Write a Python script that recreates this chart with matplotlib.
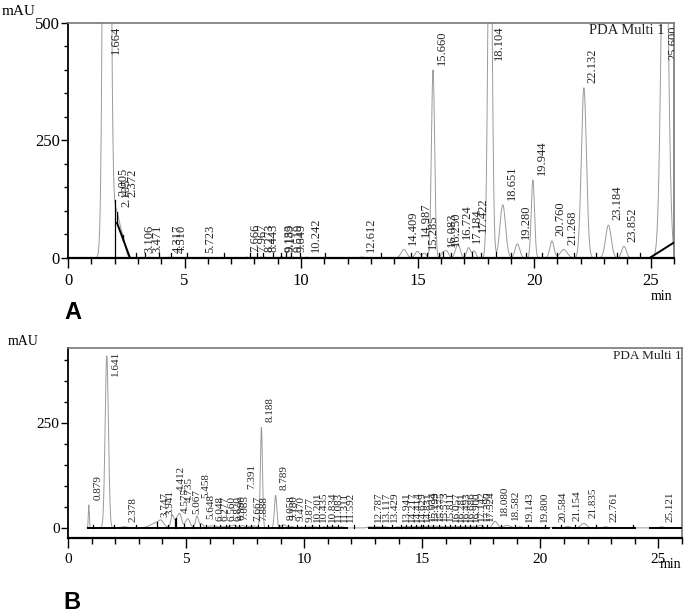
import matplotlib.pyplot as plt
import numpy as np

SERIF = ['Liberation Serif', 'DejaVu Serif']

# Panel A: peak table -> retention time (min), height (mAU), width sigma (min)
a_rt = [1.664, 2.005, 2.105, 2.372, 3.106, 3.471, 4.317, 4.510, 5.723,
        7.666, 7.967, 8.273, 8.443, 9.133, 9.189, 9.519, 9.649, 10.242,
        12.612, 14.409, 14.987, 15.285, 15.660, 16.083, 16.250, 16.724,
        17.184, 17.422, 18.104, 18.651, 19.280, 19.944, 20.760, 21.268,
        22.132, 23.184, 23.852, 25.600]
a_height = [3000, 70, 35, 25, 1.5, 1.5, 1.5, 1.5, 1,
            2, 2, 2, 2, 2, 2, 2, 2, 2,
            2, 18, 14, 10, 400, 12, 14, 30,
            22, 15, 900, 113, 30, 166, 36, 18,
            362, 70, 25, 900]
a_sigma = [0.11, 0.20, 0.15, 0.10, 0.05, 0.05, 0.05, 0.05, 0.05,
           0.05, 0.05, 0.05, 0.05, 0.05, 0.05, 0.05, 0.05, 0.05,
           0.10, 0.12, 0.10, 0.08, 0.07, 0.08, 0.08, 0.10,
           0.08, 0.08, 0.085, 0.12, 0.10, 0.07, 0.09, 0.15,
           0.11, 0.12, 0.10, 0.14]
a_base = [((2.10, 75.0), (2.66, 0.0)), ((24.95, 0.0), (26.0, 33.0))]

# Panel B
b_rt = [0.879, 1.641, 2.378, 3.747, 3.941, 4.412, 4.575, 4.735, 5.067,
        5.458, 5.648, 6.048, 6.277, 6.560, 6.820, 6.990, 7.085, 7.391,
        7.667, 7.888, 8.188, 8.789, 9.058, 9.180, 9.470, 9.877, 10.201,
        10.435, 10.834, 11.083, 11.311, 11.592, 12.787, 13.117, 13.429,
        13.941, 14.217, 14.414, 14.629, 14.831, 15.034, 15.199, 15.375,
        15.573, 15.811, 16.057, 16.281, 16.493, 16.686, 16.900, 17.142,
        17.390, 17.524, 18.080, 18.582, 19.143, 19.800, 20.584, 21.154,
        21.835, 22.761, 25.121]
b_height = [55, 410, 3, 12, 10, 28, 18, 32, 22,
            28, 10, 5, 4, 4, 4, 4, 4, 6,
            4, 5, 240, 78, 5, 5, 4, 3, 3,
            3, 3, 3, 3, 3, 3, 3, 3,
            3, 3, 3, 3, 3, 3, 3, 4,
            4, 4, 3, 3, 3, 3, 3, 4,
            4, 4, 16, 6, 3, 2, 2, 4,
            11, 3, 3]
b_sigma = [0.02, 0.07, 0.15, 0.25, 0.10, 0.06, 0.08, 0.08, 0.10,
           0.06, 0.08, 0.10, 0.08, 0.08, 0.08, 0.08, 0.08, 0.08,
           0.08, 0.08, 0.045, 0.05, 0.08, 0.08, 0.08, 0.08, 0.08,
           0.08, 0.08, 0.08, 0.08, 0.08, 0.10, 0.10, 0.10,
           0.08, 0.08, 0.08, 0.08, 0.08, 0.08, 0.08, 0.08,
           0.08, 0.08, 0.08, 0.08, 0.08, 0.08, 0.08, 0.08,
           0.08, 0.08, 0.10, 0.15, 0.10, 0.10, 0.10, 0.10,
           0.12, 0.10, 0.10]
b_base = [((0.85, 0.0), (11.80, 0.0)), ((12.75, 0.0), (20.35, 0.0)),
          ((20.55, 0.0), (24.00, 0.0)), ((24.65, 0.0), (26.0, 0.0))]

# labels lifted a bit to avoid collisions (as the integrator did)
a_lift = {'2.372': 75, '17.422': 30, '14.987': 20}
b_lift = {'4.412': 45, '4.735': 15, '5.458': 30, '7.391': 75}


def senal(t, rts, hs, ss):
    y = np.zeros_like(t, dtype=float)
    for r, h, s in zip(rts, hs, ss):
        y += h * np.exp(-0.5 * ((t - r) / s) ** 2)
    return y


def base_at(x, segs):
    for (x0, y0), (x1, y1) in segs:
        if x0 <= x <= x1:
            return y0 + (y1 - y0) * (x - x0) / (x1 - x0)
    return 0.0


def dibujar(ax, rts, hs, ss, segs, ylim, t0, fsize, pad, tick_min, lift, ax_h_px):
    ymin, ymax = ylim
    upp = (ymax - ymin) / ax_h_px  # data units per pixel
    t = np.linspace(t0, 26, 8000)
    y = senal(t, rts, hs, ss)
    ax.plot(t, y, color='#9a9a9a', lw=0.7, zorder=2)
    for (x0, y0), (x1, y1) in segs:
        ax.plot([x0, x1], [y0, y1], color='black', lw=1.4, zorder=3)

    # lineas de separacion entre picos
    for r0, r1 in zip(rts[:-1], rts[1:]):
        tt = np.linspace(r0, r1, 200)
        yy = senal(tt, rts, hs, ss)
        i = np.argmin(yy)
        xv = tt[i]
        b = base_at(xv, segs)
        top = max(yy[i], b + tick_min)
        ax.plot([xv, xv], [b, top], color='black', lw=0.9, zorder=3)

    # etiquetas de tiempo de retencion
    for r in rts:
        lbl = f"{r:.3f}"
        ypk = senal(np.array([r]), rts, hs, ss)[0]
        ylab = ypk + pad + lift.get(lbl, 0)
        largo = fsize / 72 * 100 * (0.5 * (len(lbl) - 1) + 0.3) * upp
        va = 'bottom'
        if ylab + largo > ymax - 4 * upp:
            ylab = ymax - 3 * upp
            va = 'top'
        ax.text(r + 0.38, ylab, lbl, rotation=90, ha='center', va=va,
                fontsize=fsize, family=SERIF, color='#262626', clip_on=True, zorder=4)

    ax.set_xlim(0, 26)
    ax.set_ylim(ymin, ymax)
    ax.set_xticks(range(0, 26, 5))
    ax.set_xticks(range(0, 27), minor=True)
    ax.tick_params(direction='out', which='major', length=7, width=1)
    ax.tick_params(direction='out', which='minor', length=4, width=1)
    ax.spines['left'].set_linewidth(1.3)
    ax.spines['bottom'].set_linewidth(1.6)
    for s in ['top', 'right']:
        ax.spines[s].set_color('#777777')
        ax.spines[s].set_linewidth(1.2)


fig = plt.figure(figsize=(6.85, 6.16), dpi=100)

# ---- A ----
axA = fig.add_axes([0.0993, 0.5812, 0.8847, 0.3815])
dibujar(axA, a_rt, a_height, a_sigma, a_base, (0, 500), 0.0, 9, 10, 10, a_lift, 235)
axA.set_yticks([0, 250, 500])
axA.set_yticks(range(0, 501, 50), minor=True)
axA.tick_params(axis='y', which='major', length=5, pad=1)
axA.tick_params(axis='y', which='minor', length=3)
for lab in axA.get_xticklabels() + axA.get_yticklabels():
    lab.set_family(SERIF)
    lab.set_fontsize(12)
axA.text(0.985, 0.995, 'PDA Multi 1', transform=axA.transAxes, ha='right', va='top',
         fontsize=10.5, family=SERIF, color='#222222', zorder=5)
fig.text(0.027, 0.982, 'mAU', ha='center', va='center', fontsize=11, family=SERIF)
fig.text(0.982, 0.519, 'min', ha='right', va='center', fontsize=10, family=SERIF)
fig.text(0.107, 0.492, 'A', ha='center', va='center', fontsize=17,
         family=['Liberation Sans', 'DejaVu Sans'], weight='bold')

# ---- B ----
axB = fig.add_axes([0.0993, 0.1266, 0.8964, 0.3084])
dibujar(axB, b_rt, b_height, b_sigma, b_base, (-24, 429), 0.8, 8, 12, 8, b_lift, 190)
axB.set_yticks([0, 250])
axB.set_yticks(range(0, 401, 50), minor=True)
axB.tick_params(axis='y', which='major', length=5, pad=1)
axB.tick_params(axis='y', which='minor', length=3)
for lab in axB.get_xticklabels() + axB.get_yticklabels():
    lab.set_family(SERIF)
    lab.set_fontsize(11)
axB.text(1.0, 0.99, 'PDA Multi 1', transform=axB.transAxes, ha='right', va='top',
         fontsize=9.5, family=SERIF, color='#222222')
fig.text(0.034, 0.446, 'mAU', ha='center', va='center', fontsize=10, family=SERIF)
fig.text(0.995, 0.083, 'min', ha='right', va='center', fontsize=10, family=SERIF)
fig.text(0.105, 0.003, 'B', ha='center', va='bottom', fontsize=17,
         family=['Liberation Sans', 'DejaVu Sans'], weight='bold')

fig.savefig('out.png', dpi=100)
